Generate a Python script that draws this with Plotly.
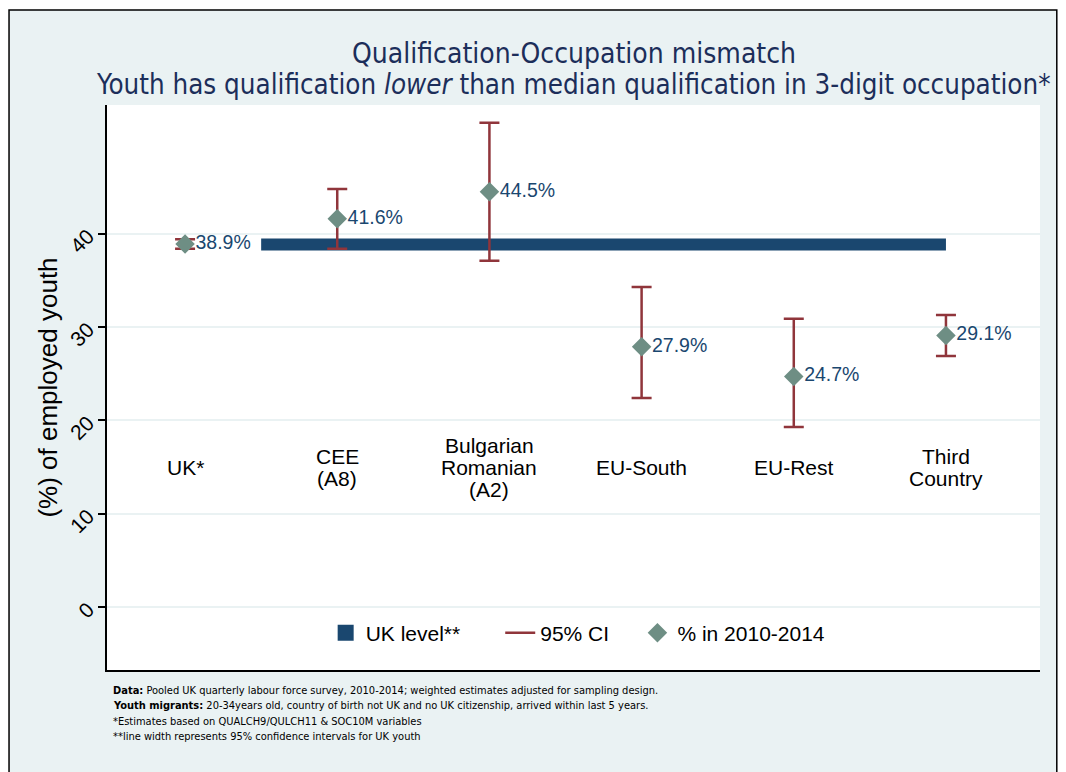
import numpy as np
import plotly.graph_objects as go

# Qualification-occupation mismatch, youth migrants vs UK youth
categories = ["UK*", "CEE<br>(A8)", "Bulgarian<br>Romanian<br>(A2)",
              "EU-South", "EU-Rest", "Third<br>Country"]
share = [38.9, 41.6, 44.5, 27.9, 24.7, 29.1]      # % in 2010-2014
ci_low = [38.4, 38.4, 37.1, 22.4, 19.3, 26.9]     # 95% CI
ci_high = [39.4, 44.8, 51.9, 34.3, 30.9, 31.3]
uk_band_x = [1.5, 6]                              # UK level band
uk_band = [38.2, 39.5]                            # UK youth 95% CI
yticks = [0, 10, 20, 30, 40]

xpos = np.arange(1, len(categories) + 1)
share = np.array(share)
err_plus = np.array(ci_high) - share
err_minus = share - np.array(ci_low)

navy = "#1A476F"
cranberry = "#90353B"
teal = "#6E8E84"
bg = "#EAF2F3"
font = "Liberation Sans, Arial, sans-serif"
narrow = "DejaVu Sans Condensed, Liberation Sans Narrow, sans-serif"
nb = "\u00a0"  # padding between legend entries

# UK level band
band = go.Scatter(
    x=[uk_band_x[0], uk_band_x[1], uk_band_x[1], uk_band_x[0]],
    y=[uk_band[0], uk_band[0], uk_band[1], uk_band[1]],
    mode='lines', fill='toself', fillcolor=navy,
    line=dict(width=0, color=navy),
    showlegend=False, hoverinfo='skip'
)
band_legend = go.Scatter(
    x=[None], y=[None], mode='markers',
    marker=dict(symbol='square', size=16, color=navy),
    name='UK level**' + nb * 6
)

# confidence intervals (drawn as error bars, legend entry separate)
ci = go.Scatter(
    x=xpos, y=share, mode='markers',
    marker=dict(size=1, color='rgba(0,0,0,0)'),
    error_y=dict(type='data', symmetric=False, array=err_plus,
                 arrayminus=err_minus, color=cranberry,
                 thickness=2.5, width=10),
    showlegend=False, hoverinfo='skip'
)
ci_legend = go.Scatter(
    x=[None], y=[None], mode='lines',
    line=dict(color=cranberry, width=2.5), name='95% CI' + nb * 4
)

points = go.Scatter(
    x=xpos, y=share, mode='markers+text',
    marker=dict(symbol='diamond', size=15, color=teal),
    text=[f"{v:.1f}%" for v in share], textposition='middle right',
    textfont=dict(size=19.5, color=navy, family=font),
    name='% in 2010-2014'
)

fig = go.Figure(data=[band, band_legend, ci_legend, ci, points])

# category labels inside the plot, one annotation per line for tight spacing
line_gap = 22
for x, lab in zip(xpos, categories):
    parts = lab.split("<br>")
    for k, part in enumerate(parts):
        fig.add_annotation(x=x, y=15, text=part, showarrow=False,
                           yshift=((len(parts) - 1) / 2 - k) * line_gap,
                           font=dict(size=21, color='black', family=font),
                           xanchor='center', yanchor='middle')

fig.add_annotation(xref='paper', yref='paper', x=0.5, y=1.092,
                   text="Qualification-Occupation mismatch", showarrow=False,
                   font=dict(size=28, color="#1C2E5A", family=narrow),
                   xanchor='center', yanchor='middle')
fig.add_annotation(xref='paper', yref='paper', x=0.5, y=1.037,
                   text="Youth has qualification <i>lower</i> than median qualification in 3-digit occupation*",
                   showarrow=False,
                   font=dict(size=27.5, color="#1C2E5A", family=narrow),
                   xanchor='center', yanchor='middle')

notes = [
    "<b>Data:</b> Pooled UK quarterly labour force survey, 2010-2014; weighted estimates adjusted for sampling design.",
    "<b>Youth migrants:</b> 20-34years old, country of birth not UK and no UK citizenship, arrived within last 5 years.",
    "*Estimates based on QUALCH9/QULCH11 & SOC10M variables",
    "**line width represents 95% confidence intervals for UK youth",
]
for i, note in enumerate(notes):
    fig.add_annotation(xref='paper', yref='paper', x=0.004, y=-0.0354 - 0.0277 * i,
                       text=note, showarrow=False, align='left',
                       font=dict(size=11, color='black', family=narrow),
                       xanchor='left', yanchor='middle')

# outer frame and white plot region
fig.add_shape(type='rect', xref='paper', yref='paper',
              x0=-0.105, x1=1.018, y0=-0.2, y1=1.168,
              fillcolor=bg, line=dict(color='black', width=1.5), layer='below')
fig.add_shape(type='rect', xref='paper', yref='paper',
              x0=0, x1=1, y0=0, y1=1,
              fillcolor='white', line=dict(width=0), layer='below')

fig.update_layout(
    width=1058, height=764,
    margin=dict(l=99, r=26, t=97, b=102),
    paper_bgcolor='white', plot_bgcolor='white',
    font=dict(family=font, color='black'),
    showlegend=True,
    legend=dict(orientation='h', x=0.505, xanchor='center', y=0.0655,
                yanchor='middle', bgcolor='white',
                font=dict(size=21, family=font, color='black')),
    xaxis=dict(range=[0.487, 6.618], showticklabels=False, showgrid=False,
               zeroline=False, ticks='', showline=True, linecolor='black',
               linewidth=1.5),
    yaxis=dict(range=[-6.75, 53.8], tickvals=yticks, tickangle=-45,
               ticks='outside', ticklen=7, tickwidth=1.5, tickcolor='black',
               tickfont=dict(size=21, color='black'), ticklabelstandoff=6,
               showgrid=True, gridcolor=bg, gridwidth=1.5, zeroline=False,
               showline=True, linecolor='black', linewidth=1.5,
               title=dict(text="(%) of employed youth", standoff=0,
                          font=dict(size=26, color='black'))),
)

fig.write_html("out.html")
